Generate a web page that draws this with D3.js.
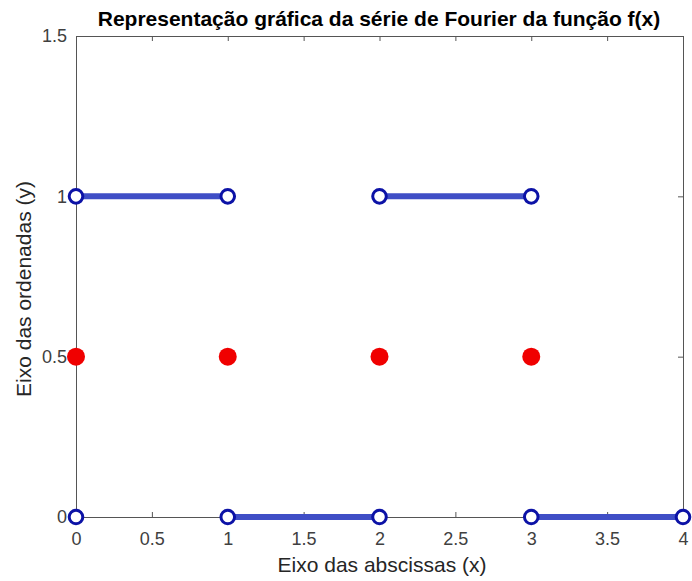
<!DOCTYPE html>
<html>
<head>
<meta charset="utf-8">
<script src="https://cdn.jsdelivr.net/npm/d3@7"></script>
<style>
  html, body { margin: 0; padding: 0; background: #fff; }
  svg { display: block; font-family: "Liberation Sans", Arial, Helvetica, sans-serif; }
</style>
</head>
<body>
<svg id="chart" width="692" height="581"></svg>
<script>
// Piecewise function f(x): horizontal segments (start, end, level)
const segStart = [0, 2, 1, 3];
const segEnd   = [1, 3, 2, 4];
const segLevel = [1, 1, 0, 0];

// Isolated point of f(x)
const pointX = [0];
const pointY = [0];

// Fourier series value at the discontinuities
const avgX = [0, 1, 2, 3];
const avgY = [0.5, 0.5, 0.5, 0.5];

// Axis ticks
const xTicks = [0, 0.5, 1, 1.5, 2, 2.5, 3, 3.5, 4];
const xTickLabels = ["0", "0.5", "1", "1.5", "2", "2.5", "3", "3.5", "4"];
const yTicks = [0, 0.5, 1, 1.5];
const yTickLabels = ["0", "0.5", "1", "1.5"];

const titleText = "Representação gráfica da série de Fourier da função f(x)";
const xLabelText = "Eixo das abscissas (x)";
const yLabelText = "Eixo das ordenadas (y)";

const svg = d3.select("#chart");
const plotLeft = 76, plotRight = 683, plotTop = 36, plotBottom = 517;

const x = d3.scaleLinear().domain([0, 4]).range([plotLeft, plotRight]);
const y = d3.scaleLinear().domain([0, 1.5]).range([plotBottom, plotTop]);

const axisColor = "#555";
const tickTextColor = "#404040";

// Axes box (bottom/left with labels, top/right plain), ticks inward
const gx = svg.append("g").attr("transform", `translate(0,${plotBottom})`)
  .call(d3.axisBottom(x).tickValues(xTicks).tickFormat((d, i) => xTickLabels[i])
    .tickSizeInner(-5).tickSizeOuter(0).tickPadding(15));
const gxt = svg.append("g").attr("transform", `translate(0,${plotTop})`)
  .call(d3.axisTop(x).tickValues(xTicks).tickFormat("").tickSizeInner(-5).tickSizeOuter(0));
const gy = svg.append("g").attr("transform", `translate(${plotLeft},0)`)
  .call(d3.axisLeft(y).tickValues(yTicks).tickFormat((d, i) => yTickLabels[i])
    .tickSizeInner(-5).tickSizeOuter(0).tickPadding(9));
const gyr = svg.append("g").attr("transform", `translate(${plotRight},0)`)
  .call(d3.axisRight(y).tickValues(yTicks).tickFormat("").tickSizeInner(-5).tickSizeOuter(0));

[gx, gxt, gy, gyr].forEach(g => {
  g.select(".domain").attr("stroke", axisColor).attr("stroke-width", 1);
  g.selectAll(".tick line").attr("stroke", axisColor);
  g.selectAll(".tick text").attr("fill", tickTextColor).attr("font-size", 18)
    .attr("font-family", "'Liberation Sans', Arial, sans-serif");
});

// Horizontal segments of f(x)
const lineColor = "#3f4ec6";
const markerEdge = "#0c12a6";
const segs = segStart.map((s, i) => ({ x0: s, x1: segEnd[i], yv: segLevel[i] }));

svg.append("g").selectAll("line").data(segs).join("line")
  .attr("x1", d => x(d.x0)).attr("x2", d => x(d.x1))
  .attr("y1", d => y(d.yv)).attr("y2", d => y(d.yv))
  .attr("stroke", lineColor).attr("stroke-width", 6);

// Open circle markers at segment endpoints and isolated point
const markers = [];
segs.forEach(d => { markers.push({ mx: d.x0, my: d.yv }); markers.push({ mx: d.x1, my: d.yv }); });
pointX.forEach((px, i) => markers.push({ mx: px, my: pointY[i] }));

svg.append("g").selectAll("circle").data(markers).join("circle")
  .attr("cx", d => x(d.mx)).attr("cy", d => y(d.my)).attr("r", 6.8)
  .attr("fill", "#fff").attr("stroke", markerEdge).attr("stroke-width", 3);

// Fourier series midpoint values
svg.append("g").selectAll("circle").data(avgX.map((v, i) => ({ ax: v, ay: avgY[i] }))).join("circle")
  .attr("cx", d => x(d.ax)).attr("cy", d => y(d.ay)).attr("r", 9)
  .attr("fill", "#f00000");

// Title and axis labels
svg.append("text").attr("x", 379).attr("y", 26)
  .attr("text-anchor", "middle").attr("font-size", 21).attr("font-weight", "bold")
  .attr("fill", "#000").text(titleText);

svg.append("text").attr("x", 382).attr("y", 572)
  .attr("text-anchor", "middle").attr("font-size", 21).attr("fill", "#262626")
  .text(xLabelText);

svg.append("text").attr("transform", "translate(31,289) rotate(-90)")
  .attr("text-anchor", "middle").attr("font-size", 21).attr("fill", "#262626")
  .text(yLabelText);
</script>
</body>
</html>
